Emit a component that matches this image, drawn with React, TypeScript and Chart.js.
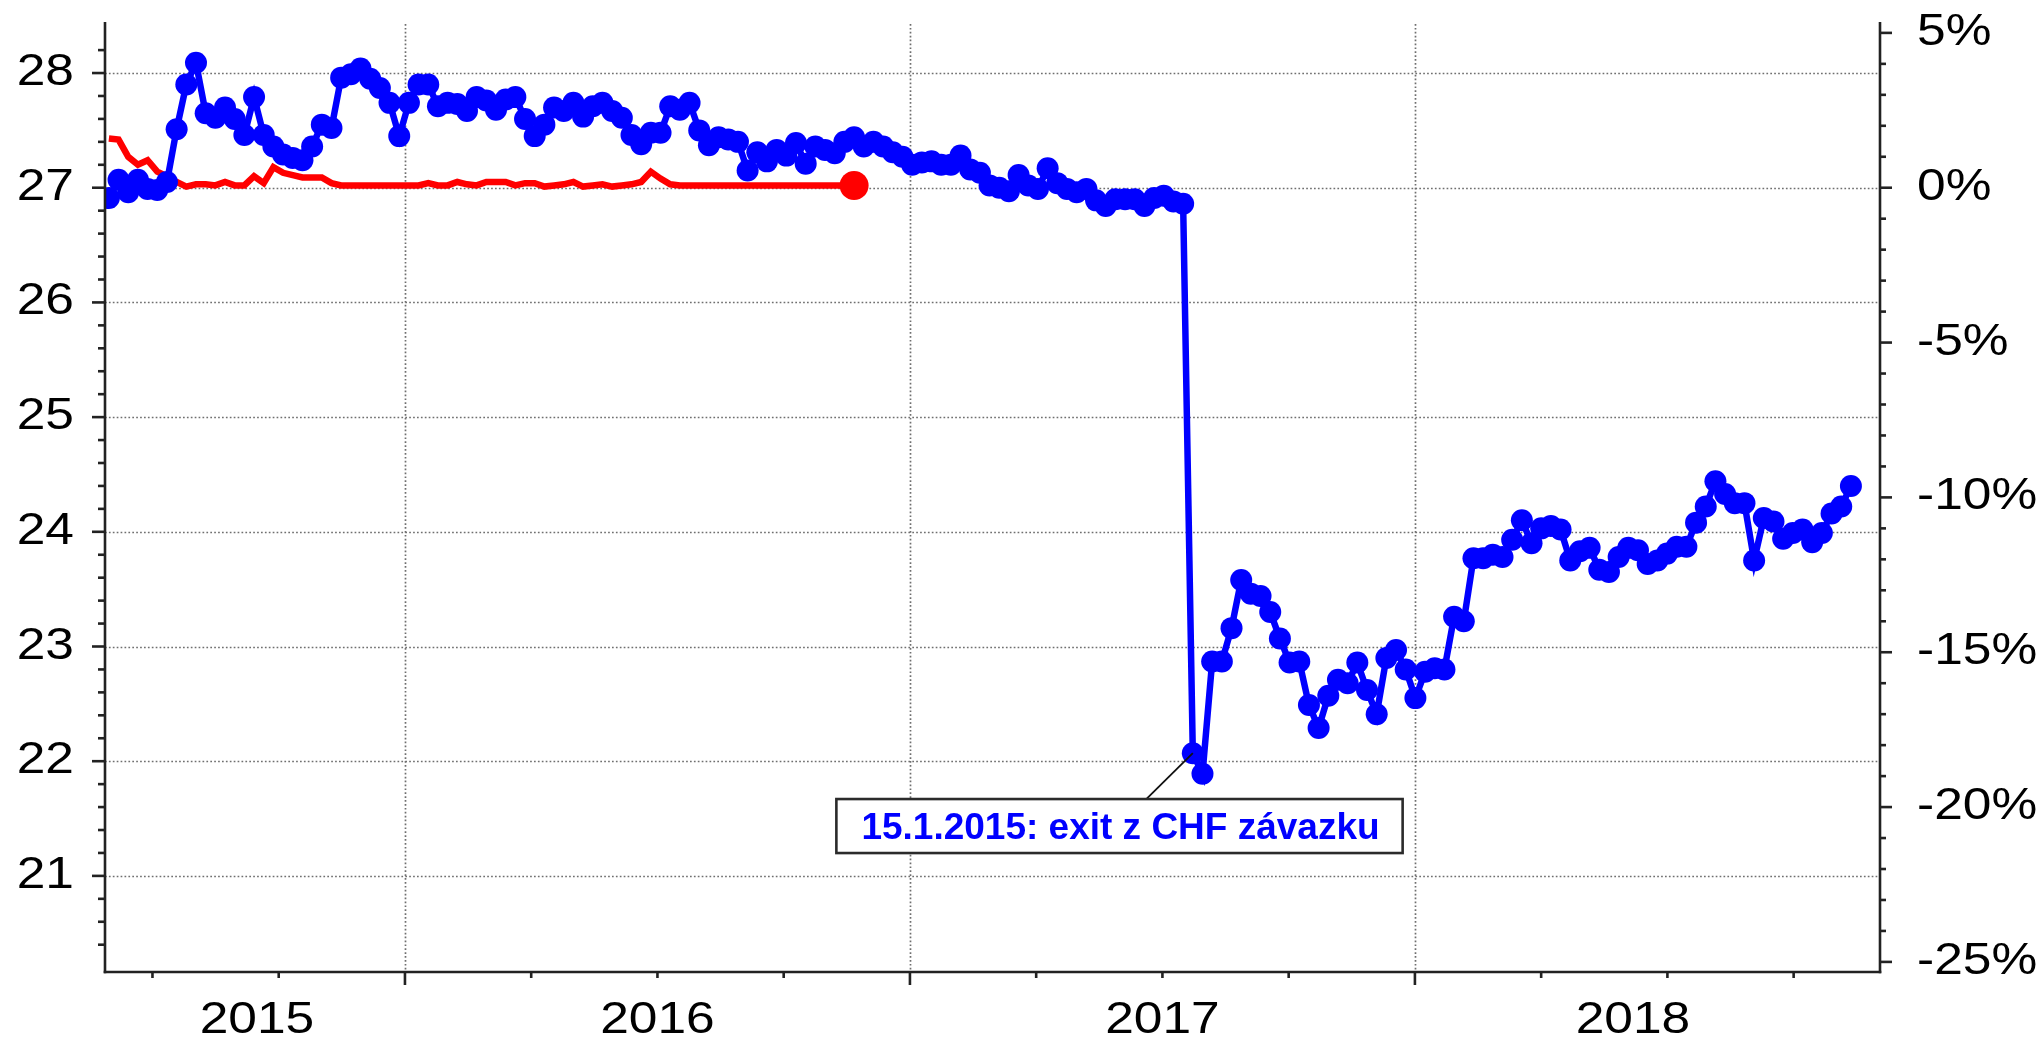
import React, { useEffect, useRef } from "react";
import { Chart, registerables } from "chart.js";

Chart.register(...registerables);

// ---------------- data ----------------
// first weekly observation (time axis for both series)
const START_DATE = "2015-06-01";
const WEEK_IN_YEARS = 7 / 365.25;

// blue: EUR/CHF rescaled to the CZK/EUR level (shifted in time)
const blueSeries: number[] = [
  26.91, 27.07, 26.96, 27.07, 26.99, 26.98, 27.05, 27.51, 27.90, 28.09,
  27.65, 27.61, 27.70, 27.60, 27.46, 27.79, 27.46, 27.36, 27.29, 27.26,
  27.24, 27.36, 27.55, 27.52, 27.96, 27.99, 28.04, 27.95, 27.87, 27.74,
  27.45, 27.74, 27.90, 27.90, 27.71, 27.74, 27.73, 27.67, 27.79, 27.76,
  27.68, 27.77, 27.79, 27.60, 27.45, 27.55, 27.70, 27.67, 27.74, 27.62,
  27.71, 27.74, 27.67, 27.61, 27.46, 27.38, 27.48, 27.48, 27.71, 27.68,
  27.74, 27.50, 27.37, 27.44, 27.42, 27.40, 27.15, 27.31, 27.23, 27.33,
  27.28, 27.39, 27.21, 27.36, 27.33, 27.30, 27.40, 27.44, 27.36, 27.40,
  27.36, 27.31, 27.27, 27.20, 27.22, 27.23, 27.20, 27.20, 27.28, 27.16,
  27.13, 27.02, 27.00, 26.97, 27.11, 27.02, 26.99, 27.17, 27.04, 26.99,
  26.96, 26.99, 26.89, 26.84, 26.90, 26.90, 26.90, 26.84, 26.91, 26.93,
  26.88, 26.86, 22.07, 21.89, 22.87, 22.87, 23.16, 23.58, 23.46, 23.44,
  23.30, 23.07, 22.86, 22.87, 22.49, 22.29, 22.57, 22.71, 22.68, 22.86,
  22.62, 22.41, 22.90, 22.97, 22.80, 22.55, 22.78, 22.81, 22.80, 23.26,
  23.22, 23.77, 23.77, 23.80, 23.78, 23.93, 24.10, 23.90, 24.03, 24.05,
  24.02, 23.75, 23.83, 23.86, 23.67, 23.65, 23.78, 23.86, 23.84, 23.72,
  23.75, 23.81, 23.87, 23.87, 24.08, 24.22, 24.44, 24.33, 24.25, 24.25,
  23.75, 24.12, 24.09, 23.94, 23.99, 24.02, 23.91, 23.99, 24.16, 24.22,
  24.40,
];

// red: CZK/EUR
const redSeries: number[] = [
  27.43, 27.42, 27.27, 27.20, 27.24, 27.14, 27.10, 27.05, 27.01, 27.03,
  27.03, 27.02, 27.05, 27.02, 27.02, 27.10, 27.04, 27.18, 27.13, 27.11,
  27.09, 27.09, 27.09, 27.04, 27.02, 27.02, 27.02, 27.02, 27.02, 27.02,
  27.02, 27.02, 27.02, 27.04, 27.02, 27.02, 27.05, 27.03, 27.02, 27.05,
  27.05, 27.05, 27.02, 27.04, 27.04, 27.01, 27.02, 27.03, 27.05, 27.01,
  27.02, 27.03, 27.01, 27.02, 27.03, 27.05, 27.14, 27.08, 27.03, 27.02,
  27.02, 27.02, 27.02, 27.02, 27.02, 27.02, 27.02, 27.02, 27.02, 27.02,
  27.02, 27.02, 27.02, 27.02, 27.02, 27.02, 27.02, 27.02,
];

const yearLabels: number[] = [2015, 2016, 2017, 2018];
const leftTickValues: number[] = [21, 22, 23, 24, 25, 26, 27, 28];
const rightTickValues: number[] = [5, 0, -5, -10, -15, -20, -25];
const BASE_LEVEL = 27; // 0 % on the right axis

const annotationText = "15.1.2015: exit z CHF závazku";
const annotationPointIndex = 112;
const annotationCenterYear = 2017.415;
const annotationLeaderYear = 2017.468;
const annotationTopValue = 21.67;

// axis ranges
const X_MIN = 2015.406;
const X_MAX = 2018.921;
const Y_MIN = 20.162;
const Y_MAX = 28.445;

// ---------------- helpers ----------------
function fracYear(iso: string): number {
  const [y, m, d] = iso.split("-").map(Number);
  const start = Date.UTC(y, 0, 1);
  const end = Date.UTC(y + 1, 0, 1);
  return y + (Date.UTC(y, m - 1, d) - start) / (end - start);
}
const startYear = fracYear(START_DATE);
const toPoints = (arr: number[]) =>
  arr.map((v, i) => ({ x: startYear + i * WEEK_IN_YEARS, y: v }));

const TICK_FONT = '44px "Liberation Sans", Arial, sans-serif';
const STRETCH = 1.17;
const AXIS_COLOR = "#222222";
const GRID_COLOR = "#6f6f6f";

function stretchedText(
  ctx: CanvasRenderingContext2D,
  text: string,
  x: number,
  y: number,
  align: "left" | "right" | "center",
  sx: number
) {
  const w = ctx.measureText(text).width * sx;
  const left = align === "left" ? x : align === "right" ? x - w : x - w / 2;
  ctx.save();
  ctx.translate(left, y);
  ctx.scale(sx, 1);
  ctx.textAlign = "left";
  ctx.fillText(text, 0, 0);
  ctx.restore();
}

function line(ctx: CanvasRenderingContext2D, x1: number, y1: number, x2: number, y2: number) {
  ctx.beginPath();
  ctx.moveTo(x1, y1);
  ctx.lineTo(x2, y2);
  ctx.stroke();
}

const gridPlugin = {
  id: "dottedGrid",
  beforeDatasetsDraw(chart: any) {
    const { ctx, chartArea: a, scales } = chart;
    const x = scales.x;
    const y = scales.y;
    ctx.save();
    ctx.strokeStyle = GRID_COLOR;
    ctx.lineWidth = 1.7;
    ctx.setLineDash([1.7, 2.2]);
    for (const v of leftTickValues) {
      const py = Math.round(y.getPixelForValue(v)) + 0.5;
      line(ctx, a.left, py, a.right, py);
    }
    for (let yr = Math.ceil(X_MIN); yr <= X_MAX; yr++) {
      const px = Math.round(x.getPixelForValue(yr)) + 0.5;
      line(ctx, px, a.top + 2, px, a.bottom);
    }
    ctx.restore();
  },
};

const axesPlugin = {
  id: "customAxes",
  afterDatasetsDraw(chart: any) {
    const { ctx, chartArea: a, scales } = chart;
    const x = scales.x;
    const y = scales.y;
    const y2 = scales.y2;
    ctx.save();
    ctx.strokeStyle = AXIS_COLOR;
    ctx.lineWidth = 2.6;
    ctx.setLineDash([]);
    // axis lines
    line(ctx, a.left, a.top, a.left, a.bottom + 1.3);
    line(ctx, a.right, a.top, a.right, a.bottom + 1.3);
    line(ctx, a.left - 1.3, a.bottom, a.right + 1.3, a.bottom);

    // left ticks (major every 1, minor every 0.2)
    for (let k = 102; k <= 141; k++) {
      const v = k / 5;
      const py = y.getPixelForValue(v);
      const major = k % 5 === 0;
      line(ctx, a.left - (major ? 13 : 7), py, a.left, py);
    }
    // right ticks (major every 5 %, minor every 1 %)
    for (let p = -25; p <= 5; p++) {
      const py = y2.getPixelForValue(p);
      const major = p % 5 === 0;
      line(ctx, a.right, py, a.right + (major ? 12 : 6), py);
    }
    // bottom ticks (quarters, major at year start)
    for (let q = Math.ceil(X_MIN * 4); q <= Math.floor(X_MAX * 4); q++) {
      const v = q / 4;
      const px = x.getPixelForValue(v);
      const major = q % 4 === 0;
      line(ctx, px, a.bottom, px, a.bottom + (major ? 13 : 6));
    }

    // labels
    ctx.fillStyle = "#000";
    ctx.font = TICK_FONT;
    ctx.textBaseline = "alphabetic";
    for (const v of leftTickValues) {
      const py = y.getPixelForValue(v);
      stretchedText(ctx, String(v), a.left - 31, py + 12, "right", STRETCH);
    }
    for (const p of rightTickValues) {
      const py = y2.getPixelForValue(p);
      stretchedText(ctx, p + "%", a.right + 37, py + 12, "left", STRETCH);
    }
    const firstX = startYear;
    const lastX = startYear + (blueSeries.length - 1) * WEEK_IN_YEARS;
    for (const yr of yearLabels) {
      const from = Math.max(yr, firstX);
      const to = Math.min(yr + 1, lastX);
      const px = x.getPixelForValue((from + to) / 2);
      stretchedText(ctx, String(yr), px, a.bottom + 61, "center", STRETCH);
    }

    // annotation
    const pt = {
      x: x.getPixelForValue(startYear + annotationPointIndex * WEEK_IN_YEARS),
      y: y.getPixelForValue(blueSeries[annotationPointIndex]),
    };
    ctx.font = 'bold 37px "Liberation Sans", Arial, sans-serif';
    const tw = ctx.measureText(annotationText).width;
    const bw = tw + 48;
    const bh = 54;
    const bx = x.getPixelForValue(annotationCenterYear) - bw / 2;
    const by = y.getPixelForValue(annotationTopValue);
    ctx.strokeStyle = "#111";
    ctx.lineWidth = 1.8;
    line(ctx, pt.x, pt.y, x.getPixelForValue(annotationLeaderYear), by);
    ctx.fillStyle = "#ffffff";
    ctx.fillRect(bx, by, bw, bh);
    ctx.strokeStyle = "#2b2b2b";
    ctx.lineWidth = 2.6;
    ctx.strokeRect(bx, by, bw, bh);
    ctx.fillStyle = "#0000ff";
    ctx.textAlign = "left";
    ctx.fillText(annotationText, bx + 25, by + 40);
    ctx.restore();
  },
};

export default function App() {
  const canvasRef = useRef<HTMLCanvasElement | null>(null);

  useEffect(() => {
    const canvas = canvasRef.current;
    if (!canvas) return;
    const redLast = redSeries.length - 1;
    const chart = new Chart(canvas, {
      type: "line",
      data: {
        datasets: [
          {
            label: "EUR/CHF",
            data: toPoints(blueSeries),
            borderColor: "#0000ff",
            backgroundColor: "#0000ff",
            borderWidth: 6.5,
            pointRadius: 11,
            pointBorderWidth: 0,
            pointBackgroundColor: "#0000ff",
            tension: 0,
            clip: 0,
          },
          {
            label: "CZK/EUR",
            data: toPoints(redSeries),
            borderColor: "#ff0000",
            backgroundColor: "#ff0000",
            borderWidth: 6.5,
            pointRadius: (c: any) => (c.dataIndex === redLast ? 14.5 : 0),
            pointBorderWidth: 0,
            pointBackgroundColor: "#ff0000",
            tension: 0,
            clip: 0,
          },
        ],
      },
      options: {
        responsive: false,
        animation: false,
        events: [],
        layout: { padding: { left: 105, right: 162, top: 22, bottom: 66 } },
        plugins: { legend: { display: false }, tooltip: { enabled: false } },
        scales: {
          x: { type: "linear", display: false, min: X_MIN, max: X_MAX },
          y: { type: "linear", display: false, min: Y_MIN, max: Y_MAX },
          y2: {
            type: "linear",
            display: false,
            position: "right",
            min: (Y_MIN / BASE_LEVEL - 1) * 100,
            max: (Y_MAX / BASE_LEVEL - 1) * 100,
          },
        },
      } as any,
      plugins: [gridPlugin, axesPlugin],
    });
    return () => chart.destroy();
  }, []);

  return (
    <div style={{ position: "fixed", left: 0, top: 0, width: 2042, height: 1038, background: "#fff" }}>
      <canvas ref={canvasRef} width={2042} height={1038} style={{ width: 2042, height: 1038, display: "block" }} />
    </div>
  );
}
